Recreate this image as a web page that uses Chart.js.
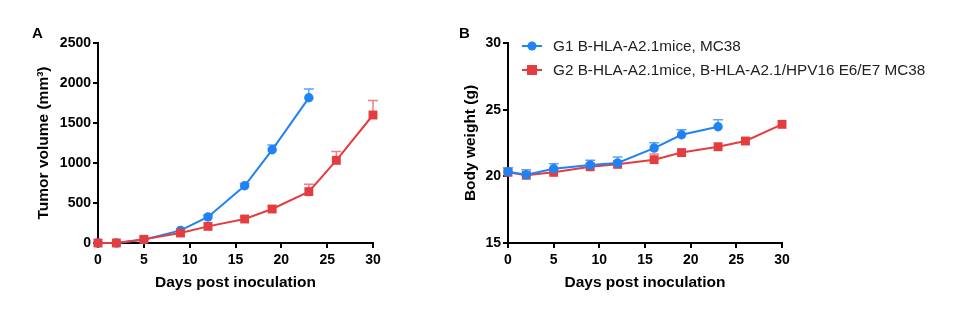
<!DOCTYPE html>
<html>
<head>
<meta charset="utf-8">
<script src="https://cdn.jsdelivr.net/npm/chart.js@4.4.0/dist/chart.umd.min.js"></script>
<style>
  html, body { margin: 0; padding: 0; background: #fff; }
  body { width: 958px; height: 322px; position: relative; overflow: hidden; font-family: "Liberation Sans", Arial, sans-serif; }
  .panel { position: absolute; top: 0; height: 322px; }
  .tag { position: absolute; font-weight: bold; font-size: 15px; color: #000; }
</style>
</head>
<body>
<div class="panel" style="left:0; width:430px;"><canvas id="tumorChart" width="430" height="322"></canvas></div>
<div class="panel" style="left:430px; width:528px;"><canvas id="weightChart" width="528" height="322"></canvas></div>
<div class="tag" style="left:32px; top:24px;">A</div>
<div class="tag" style="left:459px; top:24px;">B</div>
<script>
// days
const daysG1 = [0, 2, 5, 9, 12, 16, 19, 23];
const daysG2 = [0, 2, 5, 9, 12, 16, 19, 23, 26, 30];

// tumor volume (mm3), mean and SEM
const tumorG1 = [0, 0, 40, 158, 325, 715, 1165, 1815];
const tumorG1Err = [0, 0, 8, 20, 25, 30, 60, 110];
const tumorG2 = [0, 0, 46, 125, 208, 300, 425, 642, 1033, 1600];
const tumorG2Err = [0, 0, 8, 15, 20, 25, 30, 92, 112, 182];

// body weight (g), mean and SEM
const weightG1 = [20.35, 20.12, 20.57, 20.85, 21.0, 22.12, 23.12, 23.72];
const weightG1Err = [0.3, 0.38, 0.38, 0.35, 0.45, 0.4, 0.38, 0.52];
const weightG2 = [20.3, 20.08, 20.3, 20.72, 20.9, 21.25, 21.78, 22.22, 22.65, 23.9];
const weightG2Err = [0.1, 0.1, 0.1, 0.1, 0.1, 0.43, 0.1, 0.1, 0.1, 0.1];

const xTicks = [0, 5, 10, 15, 20, 25, 30];
const tumorTicks = [0, 500, 1000, 1500, 2000, 2500];
const weightTicks = [15, 20, 25, 30];

const groupLabels = [
  "G1 B-HLA-A2.1mice, MC38",
  "G2 B-HLA-A2.1mice, B-HLA-A2.1/HPV16 E6/E7 MC38",
];

const BLUE = "#1f83f5";
const RED = "#e43d40";
const BLUE_ERR = "#5aa5f7";
const RED_ERR = "#ee7f82";
const FONT = "'Liberation Sans', Arial, sans-serif";

const toPoints = (xs, ys) => xs.map((x, i) => ({ x: x, y: ys[i] }));

// upper error bars, drawn before the datasets
const errorBars = {
  id: "errorBars",
  beforeDatasetsDraw(chart) {
    const ctx = chart.ctx;
    const xs = chart.scales.x;
    const ys = chart.scales.y;
    chart.data.datasets.forEach((ds) => {
      if (!ds.errors) return;
      ctx.save();
      ctx.strokeStyle = ds.errColor;
      ctx.lineWidth = 1.5;
      ds.data.forEach((p, i) => {
        const e = ds.errors[i];
        if (!e) return;
        const px = xs.getPixelForValue(p.x);
        const py = ys.getPixelForValue(p.y);
        const top = ys.getPixelForValue(p.y + e);
        if (py - top < 2) return;
        ctx.beginPath();
        ctx.moveTo(px, py);
        ctx.lineTo(px, top);
        ctx.moveTo(px - 5, top);
        ctx.lineTo(px + 5, top);
        ctx.stroke();
      });
      ctx.restore();
    });
  },
};

// legend inside the plot area (panel B)
const innerLegend = {
  id: "innerLegend",
  afterDraw(chart, args, opts) {
    if (!opts.show) return;
    const ctx = chart.ctx;
    const left = chart.chartArea.left + 14;
    const rows = [chart.data.datasets[0], chart.data.datasets[1]];
    ctx.save();
    rows.forEach((ds, i) => {
      const y = chart.chartArea.top + 3 + i * 24;
      ctx.strokeStyle = ds.borderColor;
      ctx.lineWidth = 2;
      ctx.beginPath();
      ctx.moveTo(left, y);
      ctx.lineTo(left + 20, y);
      ctx.stroke();
      ctx.fillStyle = ds.borderColor;
      if (ds.pointStyle === "rect") {
        ctx.fillRect(left + 5, y - 5, 10, 10);
      } else {
        ctx.beginPath();
        ctx.arc(left + 10, y, 4.5, 0, Math.PI * 2);
        ctx.fill();
      }
      ctx.fillStyle = "#222";
      ctx.font = "15.3px " + FONT;
      ctx.textBaseline = "middle";
      ctx.fillText(groupLabels[i], left + 31, y + 1);
    });
    ctx.restore();
  },
};

function buildChart(id, g1, g1Err, g2, g2Err, yMin, yMax, yTicks, yTitle, yWidth, right, titleGap, showLegend) {
  const ctx = document.getElementById(id);
  return new Chart(ctx, {
    type: "line",
    data: {
      datasets: [
        {
          label: groupLabels[0],
          data: toPoints(daysG1, g1),
          errors: g1Err,
          errColor: BLUE_ERR,
          borderColor: BLUE,
          backgroundColor: BLUE,
          borderWidth: 2,
          pointStyle: "circle",
          pointRadius: 4.7,
          pointBorderWidth: 0,
          clip: false,
          order: showLegend ? 0 : 1,
        },
        {
          label: groupLabels[1],
          data: toPoints(daysG2, g2),
          errors: g2Err,
          errColor: RED_ERR,
          borderColor: RED,
          backgroundColor: RED,
          borderWidth: 2,
          pointStyle: "rect",
          pointRadius: 6.3,
          pointBorderWidth: 0,
          clip: false,
          order: showLegend ? 1 : 0,
        },
      ],
    },
    options: {
      responsive: false,
      animation: false,
      layout: { padding: { top: 43, right: right, left: 0, bottom: 0 } },
      plugins: {
        legend: { display: false },
        tooltip: { enabled: false },
        innerLegend: { show: showLegend },
      },
      scales: {
        x: {
          type: "linear",
          min: 0,
          max: 30,
          afterBuildTicks: (axis) => {
            axis.ticks = xTicks.map((v) => ({ value: v }));
          },
          afterFit: (axis) => {
            axis.height = 79;
          },
          border: { color: "#000", width: 2 },
          grid: { drawOnChartArea: false, drawTicks: true, tickLength: 5, color: "#000", lineWidth: 2 },
          ticks: {
            color: "#000",
            font: { family: FONT, size: 14, weight: "bold" },
            padding: 4,
            maxRotation: 0,
            callback: (v) => v,
          },
          title: {
            display: true,
            text: "Days post inoculation",
            color: "#000",
            font: { family: FONT, size: 15.5, weight: "bold" },
            padding: { top: 0, bottom: 30 },
          },
        },
        y: {
          type: "linear",
          min: yMin,
          max: yMax,
          afterBuildTicks: (axis) => {
            axis.ticks = yTicks.map((v) => ({ value: v }));
          },
          afterFit: (axis) => {
            axis.width = yWidth;
          },
          border: { color: "#000", width: 2 },
          grid: { drawOnChartArea: false, drawTicks: true, tickLength: 5, color: "#000", lineWidth: 2 },
          ticks: {
            color: "#000",
            font: { family: FONT, size: 14, weight: "bold" },
            padding: 2,
            callback: (v) => v,
          },
          title: {
            display: true,
            text: yTitle,
            color: "#000",
            font: { family: FONT, size: 15.5, weight: "bold" },
            padding: { top: titleGap, bottom: 0 },
          },
        },
      },
    },
    plugins: [errorBars, innerLegend],
  });
}

document.addEventListener("DOMContentLoaded", () => {
  buildChart("tumorChart", tumorG1, tumorG1Err, tumorG2, tumorG2Err, 0, 2500, tumorTicks,
    "Tumor volume (mm\u00B3)", 98, 57, 34, false);
  buildChart("weightChart", weightG1, weightG1Err, weightG2, weightG2Err, 15, 30, weightTicks,
    "Body weight (g)", 78, 176, 31, true);
});
</script>
</body>
</html>
